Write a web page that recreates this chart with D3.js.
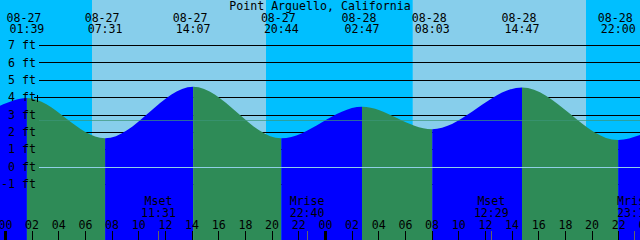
<!DOCTYPE html>
<html>
<head>
<meta charset="utf-8">
<script src="https://cdn.jsdelivr.net/npm/d3@7"></script>
<style>
  body { margin: 0; background: #fff; }
  svg { display: block; }
  text { font-family: "DejaVu Sans Mono", monospace; font-size: 11.6px; fill: #000; }
</style>
</head>
<body>
<div class="chart"></div>
<script>
// Chart area
var svgWidth = 640;
var svgHeight = 240;

// Tide events (times local, heights in ft)
var tideTimes = ["08-26 23:38", "08-27 01:39", "08-27 07:31", "08-27 14:07", "08-27 20:44",
                 "08-28 02:47", "08-28 08:03", "08-28 14:47", "08-28 22:00", "08-28 23:38"];
var tideHeights = [3.5, 3.95, 1.63, 4.6, 1.63, 3.45, 2.15, 4.56, 1.53, 1.82];
// the first and last entries are only the window edges, not labelled events
var labelledTides = [1, 2, 3, 4, 5, 6, 7, 8];

// Sunrise / sunset
var sunTimes = ["08-27 06:32", "08-27 19:35", "08-28 06:36", "08-28 19:35"];
var sunKinds = ["rise", "set", "rise", "set"];

// Moon events
var moonTimes = ["08-27 11:31", "08-27 22:40", "08-28 12:29", "08-28 23:13"];
var moonKinds = ["Mset", "Mrise", "Mset", "Mrise"];

var levelTicks = [-1, 0, 1, 2, 3, 4, 5, 6, 7];
var meanLevel = 2.67;
var title = "Point Arguello, California";

var parseTime = d3.utcParse("%m-%d %H:%M");
var windowStart = parseTime(tideTimes[0]);
var windowEnd = parseTime(tideTimes[tideTimes.length - 1]);

var x = d3.scaleUtc().domain([windowStart, windowEnd]).range([0, svgWidth]);
var y = d3.scaleLinear().domain([-1, 7]).range([184, 45]);

var tides = tideTimes.map(function(t, i) { return { t: parseTime(t), h: tideHeights[i] }; });

var svg = d3.select(".chart")
  .append("svg")
  .attr("width", svgWidth)
  .attr("height", svgHeight);

// day / night background
var edges = [windowStart].concat(sunTimes.map(parseTime)).concat([windowEnd]);
var kinds = ["night"].concat(sunKinds.map(function(k) { return k == "rise" ? "day" : "night"; }));
svg.selectAll("rect.sky")
  .data(kinds)
  .enter()
  .append("rect")
  .attr("class", "sky")
  .attr("x", function(d, i) { return x(edges[i]); })
  .attr("width", function(d, i) { return x(edges[i + 1]) - x(edges[i]); })
  .attr("y", 0)
  .attr("height", svgHeight)
  .attr("fill", function(d) { return d == "day" ? "#87CEEB" : "#00BFFF"; });

// foot lines (under the water)
svg.selectAll("line.level")
  .data(levelTicks.filter(function(d) { return d != 0; }))
  .enter()
  .append("line")
  .attr("class", "level")
  .attr("x1", 39).attr("x2", svgWidth)
  .attr("y1", function(d) { return Math.round(y(d)) + 0.5; })
  .attr("y2", function(d) { return Math.round(y(d)) + 0.5; })
  .attr("stroke", "#000")
  .attr("shape-rendering", "crispEdges");

// water: area clip, coloured by rising / falling
var area = d3.area()
  .x(function(d) { return x(d.t); })
  .y0(svgHeight)
  .y1(function(d) { return y(d.h); })
  .curve(d3.curveMonotoneX);

svg.append("clipPath")
  .attr("id", "water")
  .append("path")
  .attr("d", area(tides));

svg.append("g")
  .attr("clip-path", "url(#water)")
  .selectAll("rect")
  .data(tides.slice(1))
  .enter()
  .append("rect")
  .attr("x", function(d, i) { return x(tides[i].t); })
  .attr("width", function(d, i) { return x(d.t) - x(tides[i].t); })
  .attr("y", 0)
  .attr("height", svgHeight)
  .attr("fill", function(d, i) { return d.h > tides[i].h ? "#0000FF" : "#2E8B57"; });

// datum and mean level lines
svg.append("line")
  .attr("x1", 39).attr("x2", svgWidth)
  .attr("y1", Math.round(y(0)) + 0.5).attr("y2", Math.round(y(0)) + 0.5)
  .attr("stroke", "#8fcfe6")
  .attr("shape-rendering", "crispEdges");

svg.append("line")
  .attr("x1", 39).attr("x2", svgWidth)
  .attr("y1", Math.round(y(meanLevel)) + 0.5).attr("y2", Math.round(y(meanLevel)) + 0.5)
  .attr("stroke", "rgb(60,150,120)")
  .attr("stroke-opacity", 0.7)
  .attr("shape-rendering", "crispEdges");

// small cross at the 4 ft mark
svg.append("path")
  .attr("d", "M37.5," + (y(4) - 2.5) + "V" + (y(4) + 4.5) + "M34," + (Math.round(y(4)) + 0.5) + "H39")
  .attr("stroke", "#000")
  .attr("shape-rendering", "crispEdges");

// y labels
var yAxis = d3.axisLeft(y)
  .tickValues(levelTicks)
  .tickSize(0)
  .tickPadding(3)
  .tickFormat(function(d) { return d + " ft"; });

var yG = svg.append("g")
  .attr("transform", "translate(39,0)")
  .call(yAxis);
yG.select(".domain").remove();
yG.selectAll("text").attr("font-family", null).attr("font-size", null);

// hour axis at the bottom
var xAxis = d3.axisTop(x)
  .tickValues(d3.utcHour.every(2).range(windowStart, d3.utcHour.offset(windowEnd, 2)))
  .tickSize(9)
  .tickPadding(2)
  .tickFormat(d3.utcFormat("%H"));

var xG = svg.append("g")
  .attr("transform", "translate(0," + svgHeight + ")")
  .call(xAxis);
xG.select(".domain").remove();
xG.selectAll("text").attr("font-family", null).attr("font-size", null);
xG.selectAll("line")
  .attr("stroke", "#000")
  .attr("stroke-width", function(d) { return d.getUTCHours() == 0 ? 3 : 1; })
  .attr("shape-rendering", "crispEdges");

// moon events
var moon = svg.selectAll("g.moon")
  .data(moonTimes)
  .enter()
  .append("g")
  .attr("class", "moon")
  .attr("transform", function(d) { return "translate(" + x(parseTime(d)) + ",0)"; });

moon.append("line")
  .attr("x1", 0.5).attr("x2", 0.5)
  .attr("y1", 231).attr("y2", svgHeight)
  .attr("stroke", "#666")
  .attr("shape-rendering", "crispEdges");

moon.append("text")
  .attr("y", 205)
  .attr("text-anchor", "middle")
  .text(function(d, i) { return moonKinds[i]; });

moon.append("text")
  .attr("y", 217)
  .attr("text-anchor", "middle")
  .text(function(d) { return d.slice(6); });

// tide event labels at the top
var ev = svg.selectAll("g.event")
  .data(labelledTides)
  .enter()
  .append("g")
  .attr("class", "event")
  .attr("transform", function(d) { return "translate(" + x(tides[d].t) + ",0)"; });

ev.append("text")
  .attr("x", -3)
  .attr("y", 21.5)
  .attr("text-anchor", "middle")
  .text(function(d) { return tideTimes[d].slice(0, 5); });

ev.append("text")
  .attr("y", 33)
  .attr("text-anchor", "middle")
  .text(function(d) { return tideTimes[d].slice(6); });

svg.append("text")
  .attr("x", svgWidth / 2)
  .attr("y", 10)
  .attr("text-anchor", "middle")
  .text(title);
</script>
</body>
</html>
